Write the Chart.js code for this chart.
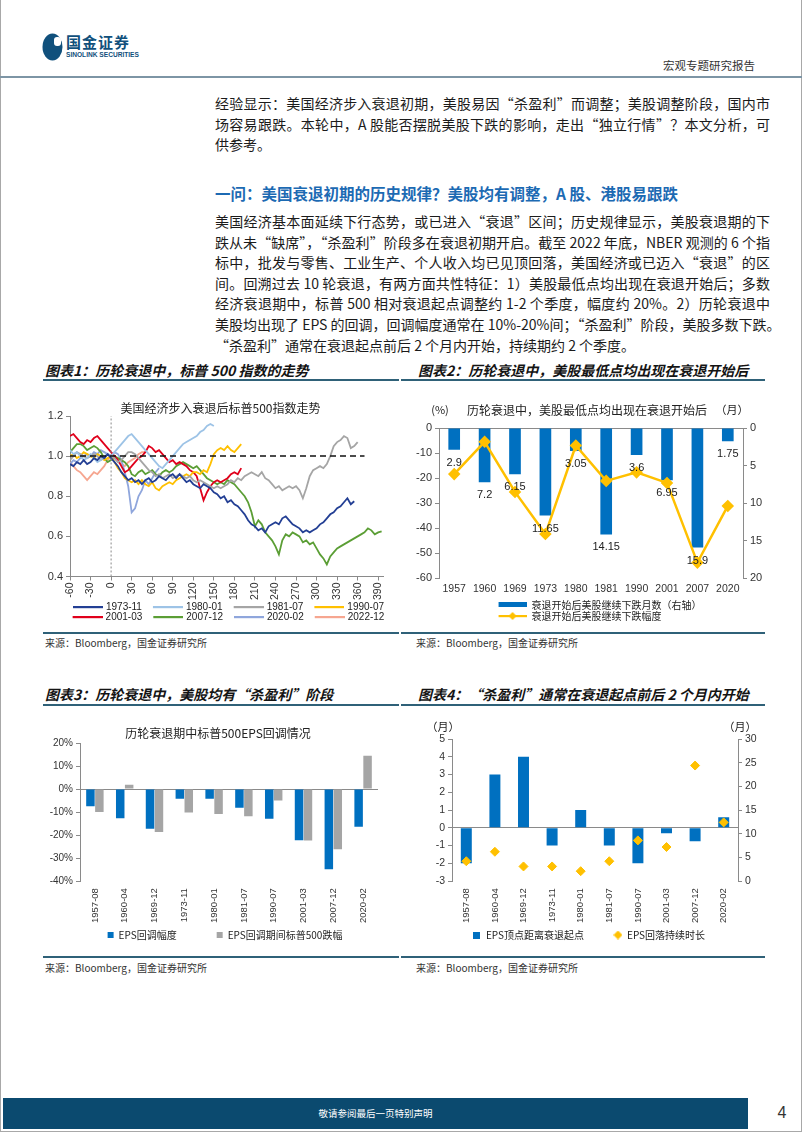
<!DOCTYPE html>
<html lang="zh-CN">
<head>
<meta charset="utf-8">
<title>宏观专题研究报告 - 国金证券</title>
<script src="https://cdn.jsdelivr.net/npm/chart.js@4.4.1/dist/chart.umd.min.js"></script>
<style>
html, body { margin: 0; padding: 0; background: #fff; }
#page { position: relative; width: 802px; height: 1133px; overflow: hidden; background: #fff;
  font-family: "Noto Sans CJK SC", "Liberation Sans", sans-serif; color: #1b1b1b; }
#page > * { position: absolute; }
.frame { left: 0; top: 0; width: 800px; height: 1131px; border: 1px solid #a8a8a8; border-top: none; }
.logo-cn { left: 66px; top: 33px; font-size: 15px; font-weight: 700; color: #10507c; letter-spacing: 1px; line-height: 18px; }
.logo-en { left: 66px; top: 51px; font-family: "Liberation Sans", sans-serif; font-size: 6.6px; font-weight: 700; color: #10507c; line-height: 8px; }
.doc-type { left: 663px; top: 57px; font-size: 11.5px; color: #333; line-height: 16px; }
.rule { height: 2px; background: #7d95a5; }
.para { left: 215px; width: 555px; font-size: 14px; line-height: 20.6px; color: #1b1b1b; }
.para div { white-space: nowrap; text-align: justify; text-align-last: justify; }
.para div.last { text-align-last: left; }
.heading { left: 215px; top: 182px; font-size: 15.5px; font-weight: 700; color: #1c6ab3; line-height: 22px; white-space: nowrap; }
.ctitle { font-size: 14px; font-weight: 700; font-style: italic; color: #141414; line-height: 18px; white-space: nowrap; }
.uline { height: 1.5px; background: #2f6178; }
.source { font-size: 10px; color: #333; line-height: 12px; }
.footer { left: 3px; top: 1098px; width: 745px; height: 31px; background: #0b4a6f; color: #fff;
  font-size: 9.5px; line-height: 31px; text-align: center; }
.pageno { left: 770px; top: 1102px; width: 24px; text-align: center; font-family: "Liberation Sans", sans-serif; font-size: 16px; color: #333; line-height: 22px; }
</style>
</head>
<body>
<div id="page">
  <div class="frame"></div>
  <svg style="left:42px;top:32px" width="22" height="30" viewBox="0 0 22 30">
    <ellipse cx="10.5" cy="15" rx="10" ry="13.5" fill="#10507c"/>
    <rect x="12" y="5" width="7" height="9" rx="3" fill="#fff"/>
  </svg>
  <div class="logo-cn">国金证券</div>
  <div class="logo-en">SINOLINK SECURITIES</div>
  <div class="doc-type">宏观专题研究报告</div>
  <div class="rule" style="left:0;top:76px;width:802px"></div>

  <div class="para" style="top:93px">
    <div>经验显示：美国经济步入衰退初期，美股易因“杀盈利”而调整；美股调整阶段，国内市</div>
    <div>场容易跟跌。本轮中，A 股能否摆脱美股下跌的影响，走出“独立行情”？本文分析，可</div>
    <div class="last">供参考。</div>
  </div>

  <div class="heading">一问：美国衰退初期的历史规律？美股均有调整，A 股、港股易跟跌</div>

  <div class="para" style="top:211px">
    <div>美国经济基本面延续下行态势，或已进入“衰退”区间；历史规律显示，美股衰退期的下</div>
    <div>跌从未“缺席”，“杀盈利”阶段多在衰退初期开启。截至 2022 年底，NBER 观测的 6 个指</div>
    <div>标中，批发与零售、工业生产、个人收入均已见顶回落，美国经济或已迈入“衰退”的区</div>
    <div>间。回溯过去 10 轮衰退，有两方面共性特征：1）美股最低点均出现在衰退开始后；多数</div>
    <div>经济衰退期中，标普 500 相对衰退起点调整约 1-2 个季度，幅度约 20%。2）历轮衰退中</div>
    <div>美股均出现了 EPS 的回调，回调幅度通常在 10%-20%间；“杀盈利”阶段，美股多数下跌。</div>
    <div class="last">“杀盈利”通常在衰退起点前后 2 个月内开始，持续期约 2 个季度。</div>
  </div>

  <div class="ctitle" style="left:45px;top:361px">图表1：历轮衰退中，标普 500 指数的走势</div>
  <div class="ctitle" style="left:418px;top:361px">图表2：历轮衰退中，美股最低点均出现在衰退开始后</div>
  <div class="uline" style="left:43px;top:379px;width:356px"></div>
  <div class="uline" style="left:401px;top:379px;width:364px"></div>

  <div class="uline" style="left:43px;top:632px;width:356px"></div>
  <div class="uline" style="left:401px;top:632px;width:364px"></div>
  <div class="source" style="left:45px;top:637px">来源：Bloomberg，国金证券研究所</div>
  <div class="source" style="left:416px;top:637px">来源：Bloomberg，国金证券研究所</div>

  <div class="ctitle" style="left:45px;top:685px">图表3：历轮衰退中，美股均有“杀盈利”阶段</div>
  <div class="ctitle" style="left:418px;top:685px">图表4：“杀盈利”通常在衰退起点前后 2 个月内开始</div>
  <div class="uline" style="left:43px;top:704px;width:356px"></div>
  <div class="uline" style="left:401px;top:704px;width:364px"></div>

  <div class="uline" style="left:43px;top:956px;width:356px"></div>
  <div class="uline" style="left:401px;top:956px;width:364px"></div>
  <div class="source" style="left:45px;top:962px">来源：Bloomberg，国金证券研究所</div>
  <div class="source" style="left:416px;top:962px">来源：Bloomberg，国金证券研究所</div>

  <div style="left:35px;top:393px;width:376px;height:241px"><canvas id="c1"></canvas></div>
  <div style="left:400px;top:393px;width:398px;height:240px"><canvas id="c2"></canvas></div>
  <div style="left:35px;top:716px;width:380px;height:236px"><canvas id="c3"></canvas></div>
  <div style="left:400px;top:716px;width:378px;height:236px"><canvas id="c4"></canvas></div>

  <div class="footer">敬请参阅最后一页特别声明</div>
  <div class="pageno">4</div>
</div>

<script>
// ---------- 图表1：衰退起点前后交易日, 标普500(起点=1) ----------
const days = [-60,-55,-50,-45,-40,-35,-30,-25,-20,-15,-10,-5,0,5,10,15,20,25,30,35,40,45,50,55,60,
  65,70,75,80,85,90,95,100,105,110,115,120,125,130,135,140,145,150,155,160,165,170,175,180,185,190,
  195,200,205,210,215,220,225,230,235,240,245,250,255,260,265,270,275,280,285,290,295,300,305,310,
  315,320,325,330,335,340,345,350,355,360,365,370,375,380,385,390,395];
const seriesNames = ['1973-11', '1980-01', '1981-07', '1990-07', '2001-03', '2007-12', '2020-02', '2022-12'];
const s1973 = [0.96,0.95,0.97,0.96,0.98,0.96,0.97,0.99,0.98,1.00,0.99,1.01,0.99,
  0.97,0.95,0.92,0.90,0.88,0.89,0.87,0.88,0.86,0.88,0.89,0.87,
  0.88,0.90,0.89,0.88,0.90,0.91,0.89,0.91,0.89,0.87,0.88,0.86,
  0.85,0.84,0.86,0.85,0.84,0.82,0.81,0.79,0.80,0.77,0.78,0.76,
  0.75,0.73,0.71,0.68,0.66,0.65,0.63,0.64,0.62,0.65,0.66,0.67,
  0.66,0.69,0.70,0.68,0.66,0.65,0.64,0.62,0.63,0.62,0.63,0.64,
  0.66,0.67,0.69,0.71,0.72,0.74,0.75,0.77,0.79,0.76,0.775];
const s1980 = [1.03,1.01,1.02,1.00,0.98,0.99,1.01,0.99,0.97,0.98,1.00,1.01,1.00,
  1.02,1.04,1.06,1.08,1.10,1.11,1.09,1.07,1.05,1.03,1.01,0.99,
  0.97,0.95,0.94,0.96,0.98,1.00,1.02,1.04,1.06,1.07,1.08,1.09,
  1.10,1.12,1.13,1.15,1.16,1.15];
const s1981 = [0.98,1.00,1.02,1.01,1.00,0.99,1.00,1.01,1.00,0.98,0.99,1.01,1.00,
  0.99,0.97,0.98,1.00,1.02,1.02,1.01,0.99,0.97,0.95,0.93,0.92,
  0.90,0.91,0.89,0.90,0.91,0.89,0.90,0.91,0.90,0.89,0.90,0.88,
  0.87,0.88,0.87,0.86,0.85,0.84,0.85,0.84,0.85,0.86,0.88,0.87,
  0.89,0.88,0.90,0.91,0.92,0.91,0.90,0.92,0.89,0.88,0.86,0.84,
  0.85,0.83,0.84,0.85,0.84,0.85,0.83,0.79,0.84,0.90,0.93,0.94,
  0.95,0.94,0.96,1.00,1.05,1.07,1.08,1.10,1.09,1.04,1.05,1.07];
const s1990 = [1.00,1.01,0.99,1.00,1.02,1.01,1.00,0.99,1.01,1.00,0.98,0.99,1.00,
  0.97,0.94,0.92,0.89,0.88,0.87,0.88,0.86,0.88,0.86,0.85,0.87,
  0.84,0.83,0.85,0.86,0.87,0.86,0.88,0.89,0.90,0.91,0.90,0.92,
  0.92,0.91,0.93,0.92,0.96,1.01,1.03,1.04,1.03,1.05,1.03,1.02,
  1.04,1.06];
const s2001 = [1.10,1.11,1.09,1.07,1.06,1.08,1.07,1.09,1.10,1.08,1.06,1.04,1.02,
  1.00,0.98,0.95,0.92,0.93,0.95,0.97,0.99,1.00,1.02,1.05,1.04,
  1.02,1.03,1.01,0.99,0.97,0.98,0.96,0.97,0.96,0.95,0.93,0.92,
  0.90,0.84,0.78,0.82,0.85,0.87,0.88,0.87,0.88,0.89,0.91,0.92,
  0.91,0.94];
const s2007 = [1.02,1.04,1.06,1.06,1.05,1.03,1.04,1.05,1.04,1.02,0.99,0.97,0.98,
  1.00,0.99,0.98,0.97,0.95,0.91,0.90,0.92,0.93,0.91,0.92,0.93,
  0.91,0.90,0.92,0.93,0.92,0.93,0.95,0.96,0.97,0.96,0.95,0.94,
  0.95,0.93,0.91,0.89,0.88,0.87,0.86,0.87,0.86,0.88,0.87,0.86,
  0.84,0.82,0.80,0.77,0.72,0.65,0.68,0.66,0.62,0.60,0.58,0.55,
  0.51,0.58,0.61,0.60,0.62,0.61,0.60,0.57,0.58,0.56,0.57,0.54,
  0.51,0.49,0.46,0.50,0.52,0.54,0.55,0.56,0.57,0.58,0.59,0.60,
  0.61,0.62,0.64,0.63,0.61,0.62,0.625];
const s2020 = [0.96,0.98,0.97,0.99,1.00,1.01,1.00,1.02,1.01,1.03,1.02,1.01,1.00,
  1.02,1.01,0.98,0.92,0.85,0.72,0.74,0.80,0.83,0.88,0.86,0.89,
  0.92,0.94];
const s2022 = [0.97,0.95,0.93,0.92,0.90,0.88,0.90,0.92,0.91,0.93,0.95,0.98,1.00,
  0.99,0.97,0.96,0.95,0.97,0.98,0.99,1.01,1.02,1.02];
const refLineX = [-60, 370];
const refLineY = [1, 1];
const startLineX = [0, 0];
const startLineY = [0.4, 1.2];

// ---------- 图表2 ----------
const years = ['1957', '1960', '1969', '1973', '1980', '1981', '1990', '2001', '2007', '2020'];
const fallMonths = [2.9, 7.2, 6.15, 11.65, 3.05, 14.15, 3.6, 6.95, 15.9, 1.75];
const fallDepth = [-18.4, -5.5, -25.5, -42.3, -7.0, -21.1, -17.7, -21.9, -53.7, -31.1];

// ---------- 图表3 / 图表4 ----------
const cycles = ['1957-08', '1960-04', '1969-12', '1973-11', '1980-01', '1981-07', '1990-07', '2001-03', '2007-12', '2020-02'];
const epsDrop = [-7.5, -12.7, -17.3, -4.2, -4.2, -8.1, -12.9, -22.2, -34.8, -16.4];
const spxDrop = [-10.0, 1.9, -18.7, -10.2, -10.8, -11.8, -5.0, -22.3, -26.2, 14.5];
const epsPeakLead = [-2, 3, 4, -1, 1, -1, -2, -0.3, -0.75, 0.6];
const epsFallLength = [4.2, 6.2, 3.1, 3.1, 2.1, 4.2, 8.6, 7.2, 24.4, 12.4];

const seriesColors = ['#233f94', '#9dc3e6', '#a5a5a5', '#ffc000', '#e0001b', '#5b9e35', '#8fa6dc', '#f6a690'];
const BLUE = '#0070c0', GOLD = '#ffc000', GREY = '#a5a5a5', AXIS = '#8a8a8a';

Chart.defaults.font.family = '"Liberation Sans", "Noto Sans CJK SC", sans-serif';
Chart.defaults.color = '#333';
Chart.defaults.animation = false;

// 图例小图
function swatch(w, h, draw) {
    const c = document.createElement('canvas');
    c.width = w; c.height = h;
    draw(c.getContext('2d'), w, h);
    return c;
}
function lineSwatch(color) {
    return swatch(43, 4, (g) => { g.fillStyle = color; g.fillRect(13, 1, 30, 2.2); });
}
function diamond(g, cx, cy, r, color) {
    g.fillStyle = color;
    g.beginPath();
    g.moveTo(cx, cy - r); g.lineTo(cx + r, cy); g.lineTo(cx, cy + r); g.lineTo(cx - r, cy);
    g.closePath(); g.fill();
}
const defaultLabels = (chart) => Chart.defaults.plugins.legend.labels.generateLabels(chart);

// 右侧占位轴 (只占宽度, 让图例居中位置与原图一致)
const spacerAxis = (w) => ({
    position: 'right',
    afterFit: (s) => { s.width = w; },
    ticks: { display: false },
    grid: { display: false, drawTicks: false },
    border: { display: false }
});

// 柱端数值
const barLabels = {
    id: 'barLabels',
    afterDatasetsDraw(chart, args, opts) {
        const meta = chart.getDatasetMeta(opts.datasetIndex);
        const vals = chart.data.datasets[opts.datasetIndex].data;
        const ctx = chart.ctx;
        ctx.save();
        ctx.font = '11px "Liberation Sans", sans-serif';
        ctx.fillStyle = '#222';
        ctx.textAlign = 'center';
        ctx.textBaseline = 'middle';
        meta.data.forEach((el, i) => ctx.fillText(String(vals[i]), el.x, el.y + opts.offset));
        ctx.restore();
    }
};

// 图内标题与坐标轴单位
const chartNotes = {
    id: 'chartNotes',
    afterDraw(chart, args, opts) {
        const a = chart.chartArea, ctx = chart.ctx;
        ctx.save();
        ctx.fillStyle = '#222';
        ctx.textAlign = 'center';
        ctx.textBaseline = 'middle';
        (opts.items || []).forEach((n) => {
            const x = n.at === 'left' ? a.left : (n.at === 'right' ? a.right : (a.left + a.right) / 2);
            ctx.font = (n.size || 11) + 'px "Noto Sans CJK SC", sans-serif';
            ctx.fillText(n.text, x + (n.dx || 0), a.top - n.dy);
        });
        ctx.restore();
    }
};

// ---------- 图表1 ----------
const c1Series = [s1973, s1980, s1981, s1990, s2001, s2007, s2020, s2022];
const c1Datasets = c1Series.map((vals, k) => ({
    label: seriesNames[k],
    data: vals.map((v, i) => ({x: days[i], y: v})),
    borderColor: seriesColors[k],
    backgroundColor: seriesColors[k],
    borderWidth: 1.8,
    pointRadius: 0,
    tension: 0
}));
c1Datasets.push({
    label: 'ref', order: -1,
    data: refLineX.map((x, i) => ({x: x, y: refLineY[i]})),
    borderColor: '#111', borderWidth: 1.5, borderDash: [6, 4], pointRadius: 0
});
c1Datasets.push({
    label: 'start', order: -1,
    data: startLineX.map((x, i) => ({x: x, y: startLineY[i]})),
    borderColor: '#888', borderWidth: 1, borderDash: [2, 2], pointRadius: 0
});

new Chart(document.getElementById('c1'), {
    type: 'line',
    data: { datasets: c1Datasets },
    plugins: [chartNotes],
    options: {
        responsive: true,
        maintainAspectRatio: false,
        layout: { padding: { left: 0, right: 0, top: 23, bottom: 2 } },
        plugins: {
            tooltip: { enabled: false },
            chartNotes: { items: [{ text: '美国经济步入衰退后标普500指数走势', at: 'center', dx: -6, dy: 8, size: 12 }] },
            legend: {
                position: 'bottom',
                labels: {
                    font: { size: 10 },
                    color: '#222',
                    usePointStyle: true,
                    pointStyleWidth: 39,
                    padding: 0,
                    filter: (item) => item.datasetIndex < seriesNames.length,
                    sort: (a, b) => a.datasetIndex - b.datasetIndex,
                    generateLabels: (chart) => defaultLabels(chart).map(item => {
                        item.pointStyle = lineSwatch(seriesColors[item.datasetIndex] || '#000');
                        return item;
                    })
                }
            }
        },
        scales: {
            x: {
                type: 'linear', min: -60, max: 397, bounds: 'data',
                afterBuildTicks: (s) => { s.ticks = s.ticks.filter(t => t.value % 30 === 0); },
                ticks: { stepSize: 30, autoSkip: false, minRotation: 90, maxRotation: 90, font: { size: 10.5 }, padding: 2 },
                grid: { drawOnChartArea: false, color: AXIS, tickLength: 4 },
                border: { color: AXIS }
            },
            y: {
                min: 0.4, max: 1.2,
                afterFit: (s) => { s.width = 35; },
                ticks: { stepSize: 0.2, callback: (v) => v.toFixed(1), font: { size: 11 } },
                grid: { drawOnChartArea: false, color: AXIS, tickLength: 4 },
                border: { color: AXIS }
            },
            pad: spacerAxis(28)
        }
    }
});

// ---------- 图表2 ----------
new Chart(document.getElementById('c2'), {
    type: 'bar',
    data: {
        labels: years,
        datasets: [{
            type: 'bar',
            label: '衰退开始后美股继续下跌月数（右轴）',
            data: fallMonths,
            yAxisID: 'y1',
            backgroundColor: BLUE,
            categoryPercentage: 0.4,
            barPercentage: 0.96,
            order: 1
        }, {
            type: 'line',
            label: '衰退开始后美股继续下跌幅度',
            data: fallDepth,
            yAxisID: 'y',
            borderColor: GOLD,
            backgroundColor: GOLD,
            borderWidth: 2.5,
            pointStyle: 'rectRot',
            pointRadius: 4.5,
            order: 0
        }]
    },
    plugins: [barLabels, chartNotes],
    options: {
        responsive: true,
        maintainAspectRatio: false,
        layout: { padding: { left: 0, right: 0, top: 35, bottom: 2 } },
        plugins: {
            tooltip: { enabled: false },
            barLabels: { datasetIndex: 0, offset: 13 },
            chartNotes: { items: [
                { text: '(%)', at: 'left', dx: 1, dy: 18, size: 11 },
                { text: '历轮衰退中，美股最低点均出现在衰退开始后', at: 'center', dx: -4, dy: 18, size: 12 },
                { text: '（月）', at: 'right', dx: -11, dy: 18, size: 11 }
            ] },
            legend: {
                position: 'bottom',
                labels: {
                    font: { size: 10, family: '"Noto Sans CJK SC", sans-serif' },
                    color: '#222',
                    usePointStyle: true,
                    pointStyleWidth: 30,
                    padding: 1,
                    sort: (a, b) => a.datasetIndex - b.datasetIndex,
                    generateLabels: (chart) => defaultLabels(chart).map(item => {
                        if (item.datasetIndex === 0) {
                            item.pointStyle = swatch(30, 6, (g) => { g.fillStyle = BLUE; g.fillRect(2, 0, 28, 5); });
                        } else {
                            item.pointStyle = swatch(30, 10, (g) => {
                                g.fillStyle = GOLD; g.fillRect(2, 4, 28, 2.2);
                                diamond(g, 16, 5, 4, GOLD);
                            });
                            item.text = item.text + '　　　　';
                        }
                        return item;
                    })
                }
            }
        },
        scales: {
            x: {
                ticks: { font: { size: 10.5 }, padding: 4 },
                grid: { display: false, drawTicks: false },
                border: { display: false }
            },
            y: {
                position: 'left',
                min: -60, max: 0,
                afterFit: (s) => { s.width = 39; },
                ticks: { stepSize: 10, font: { size: 11 } },
                grid: {
                    color: (c) => (c.tick && c.tick.value === 0 ? AXIS : 'rgba(0,0,0,0)'),
                    tickColor: AXIS,
                    tickLength: 4
                },
                border: { color: AXIS }
            },
            y1: {
                position: 'right',
                reverse: true,
                min: 0, max: 20,
                afterFit: (s) => { s.width = 55; },
                ticks: { stepSize: 5, font: { size: 11 } },
                grid: { drawOnChartArea: false, color: AXIS, tickLength: 4 },
                border: { color: AXIS }
            }
        }
    }
});

// ---------- 图表3 ----------
new Chart(document.getElementById('c3'), {
    type: 'bar',
    data: {
        labels: cycles,
        datasets: [{
            label: 'EPS回调幅度',
            data: epsDrop,
            backgroundColor: BLUE,
            categoryPercentage: 0.6,
            barPercentage: 0.95
        }, {
            label: 'EPS回调期间标普500跌幅',
            data: spxDrop,
            backgroundColor: GREY,
            categoryPercentage: 0.6,
            barPercentage: 0.95
        }]
    },
    plugins: [chartNotes],
    options: {
        responsive: true,
        maintainAspectRatio: false,
        layout: { padding: { left: 0, right: 0, top: 27, bottom: 2 } },
        plugins: {
            tooltip: { enabled: false },
            chartNotes: { items: [{ text: '历轮衰退期中标普500EPS回调情况', at: 'center', dx: -11, dy: 10, size: 12 }] },
            legend: {
                position: 'bottom',
                labels: {
                    font: { size: 10, family: '"Noto Sans CJK SC", sans-serif' },
                    color: '#222',
                    boxWidth: 6,
                    boxHeight: 6,
                    padding: 0,
                    generateLabels: (chart) => defaultLabels(chart).map(item => {
                        if (item.datasetIndex === 0) item.text = item.text + '　　　　';
                        item.lineWidth = 0;
                        return item;
                    })
                }
            }
        },
        scales: {
            x: {
                ticks: { autoSkip: false, minRotation: 90, maxRotation: 90, font: { size: 9.5 }, padding: 7 },
                grid: { display: false, drawTicks: false },
                border: { display: false }
            },
            y: {
                min: -40, max: 20,
                afterFit: (s) => { s.width = 45; },
                ticks: { stepSize: 10, callback: (v) => v + '%', font: { size: 10 } },
                grid: {
                    color: (c) => (c.tick && c.tick.value === 0 ? AXIS : 'rgba(0,0,0,0)'),
                    tickColor: AXIS,
                    tickLength: 4
                },
                border: { color: AXIS }
            },
            pad: spacerAxis(37)
        }
    }
});

// ---------- 图表4 ----------
new Chart(document.getElementById('c4'), {
    type: 'bar',
    data: {
        labels: cycles,
        datasets: [{
            type: 'bar',
            label: 'EPS顶点距离衰退起点',
            data: epsPeakLead,
            yAxisID: 'y',
            backgroundColor: BLUE,
            categoryPercentage: 0.4,
            barPercentage: 0.96,
            order: 1
        }, {
            type: 'line',
            label: 'EPS回落持续时长',
            data: epsFallLength,
            yAxisID: 'y1',
            showLine: false,
            borderColor: GOLD,
            backgroundColor: GOLD,
            pointStyle: 'rectRot',
            pointRadius: 4.5,
            order: 0
        }]
    },
    plugins: [chartNotes],
    options: {
        responsive: true,
        maintainAspectRatio: false,
        layout: { padding: { left: 0, right: 0, top: 23, bottom: 2 } },
        plugins: {
            tooltip: { enabled: false },
            chartNotes: { items: [
                { text: '（月）', at: 'left', dx: -9, dy: 12, size: 11 },
                { text: '（月）', at: 'right', dx: 2, dy: 12, size: 11 }
            ] },
            legend: {
                position: 'bottom',
                labels: {
                    font: { size: 10, family: '"Noto Sans CJK SC", sans-serif' },
                    color: '#222',
                    usePointStyle: true,
                    pointStyleWidth: 8,
                    padding: 0,
                    sort: (a, b) => a.datasetIndex - b.datasetIndex,
                    generateLabels: (chart) => defaultLabels(chart).map(item => {
                        if (item.datasetIndex === 0) {
                            item.pointStyle = swatch(7, 7, (g) => { g.fillStyle = BLUE; g.fillRect(0, 0, 7, 7); });
                            item.text = item.text + '　　　';
                        } else {
                            item.pointStyle = swatch(9, 9, (g) => diamond(g, 4.5, 4.5, 4.5, GOLD));
                        }
                        return item;
                    })
                }
            }
        },
        scales: {
            x: {
                ticks: { autoSkip: false, minRotation: 90, maxRotation: 90, font: { size: 9.5 }, padding: 7 },
                grid: { display: false, drawTicks: false },
                border: { display: false }
            },
            y: {
                position: 'left',
                min: -3, max: 5,
                afterFit: (s) => { s.width = 52; },
                ticks: { stepSize: 1, font: { size: 10.5 } },
                grid: {
                    color: (c) => (c.tick && c.tick.value === 0 ? AXIS : 'rgba(0,0,0,0)'),
                    tickColor: AXIS,
                    tickLength: 4
                },
                border: { color: AXIS }
            },
            y1: {
                position: 'right',
                min: 0, max: 30,
                afterFit: (s) => { s.width = 40; },
                ticks: { stepSize: 5, font: { size: 10.5 } },
                grid: { drawOnChartArea: false, color: AXIS, tickLength: 4 },
                border: { color: AXIS }
            }
        }
    }
});
</script>
</body>
</html>
